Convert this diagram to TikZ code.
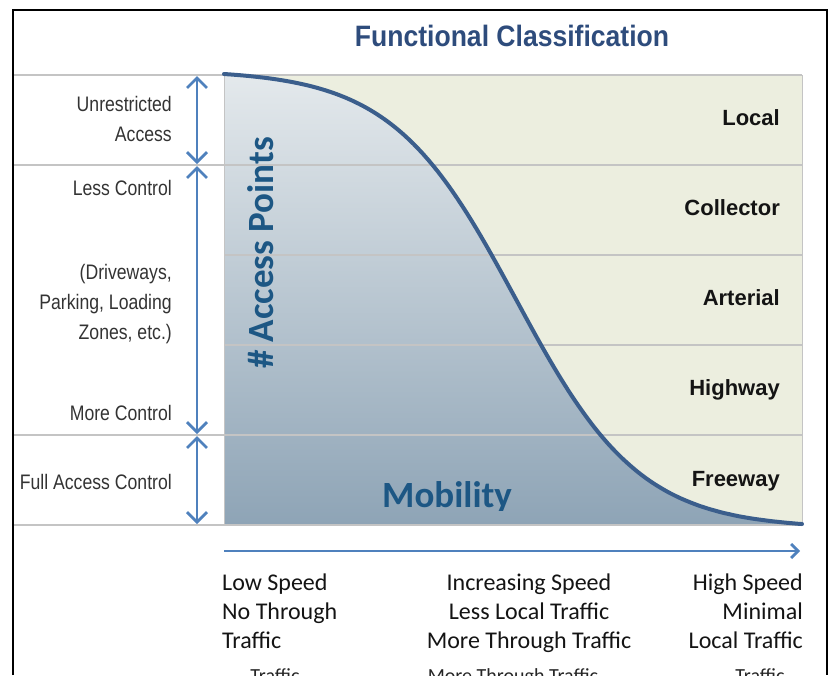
\documentclass[tikz,border=0pt]{standalone}
\usepackage{fontspec}
\setmainfont{Liberation Sans}
\newfontfamily\narrowsans[FakeStretch=0.84]{Liberation Sans}
\newfontfamily\titlesans[FakeStretch=0.9]{Liberation Sans}
\newfontfamily\calsans{Carlito}
\usetikzlibrary{arrows.meta}

\definecolor{titleblue}{HTML}{2E4C7C}
\definecolor{axisblue}{HTML}{1D5784}
\definecolor{arrowblue}{HTML}{4F81BD}
\definecolor{curveblue}{HTML}{3B5E8C}
\definecolor{gridgray}{HTML}{C4C4C4}
\definecolor{chartbeige}{HTML}{ECEEDF}
\definecolor{shadetop}{HTML}{E4E9EC}
\definecolor{shademid}{HTML}{C6D1DA}
\definecolor{shadebot}{HTML}{8EA4B6}
\definecolor{labelgray}{HTML}{333333}

\begin{document}
\begin{tikzpicture}[x=1pt,y=-1pt,
  leftlabel/.style={anchor=base east, inner sep=0pt, text=labelgray,
    font=\narrowsans\fontsize{21}{25}\selectfont},
  classlabel/.style={anchor=base east, inner sep=0pt, text=black!92,
    font=\bfseries\fontsize{22}{26}\selectfont},
  speedlabel/.style={inner sep=0pt, text=black!92,
    font=\calsans\fontsize{24}{29}\selectfont},
  ghostlabel/.style={inner sep=0pt, text=black!85,
    font=\calsans\fontsize{20}{24}\selectfont},
  axistitle/.style={inner sep=0pt, text=axisblue,
    font=\calsans\bfseries\fontsize{37}{44}\selectfont},
  gridline/.style={draw=gridgray, line width=1.5pt},
  spanarrow/.style={draw=arrowblue, line width=2.8pt,
    {Straight Barb[length=10pt,width=20pt]}-{Straight Barb[length=10pt,width=20pt]}},
  axisarrow/.style={draw=arrowblue, line width=2.8pt,
    -{Straight Barb[length=7pt,width=14pt]}},
]
\useasboundingbox (0,0) rectangle (829,675);

% chart background
\fill[chartbeige] (224,75) rectangle (802,525);

% shaded area below the access curve
\shade[top color=shadetop, middle color=shademid, bottom color=shadebot]
  (224,525) -- (224,74)
  -- plot[domain=224:802, samples=120, variable=\x]
     (\x, {74 + 458.7*(1/(1+exp(-9.3*((\x-224)/578-0.505))) - 0.00904)})
  -- (802,525) -- cycle;

% band lines
\foreach \yy in {75,165,435,525} \draw[gridline] (13,\yy) -- (802,\yy);
\foreach \yy in {255,345} \draw[gridline] (224,\yy) -- (802,\yy);
\draw[gridline, line width=1pt] (224,75) -- (224,525);
\draw[gridline, line width=1pt] (802,75) -- (802,525);

% access curve
\draw[curveblue, line width=4pt, line cap=round, line join=round]
  plot[domain=224:802, samples=120, variable=\x]
  (\x, {74 + 458.7*(1/(1+exp(-9.3*((\x-224)/578-0.505))) - 0.00904)});

% outer frame
\draw[black, line width=2pt, line join=miter] (13,675) -- (13,10) -- (827,10) -- (827,675);

% title
\node[inner sep=0pt, text=titleblue,
  font=\titlesans\bfseries\fontsize{29.5}{34}\selectfont] (title) at (512,36)
  {Functional Classification};

% access span arrows
\coordinate (s0) at (197,76);
\coordinate (s1) at (197,164);
\coordinate (s2) at (197,166);
\coordinate (s3) at (197,434);
\coordinate (s4) at (197,436);
\coordinate (s5) at (197,524);
\draw[spanarrow] (s0) -- (s1);
\draw[spanarrow] (s2) -- (s3);
\draw[spanarrow] (s4) -- (s5);

% access level labels
\node[leftlabel] (unres) at (172,111.5) {Unrestricted};
\node[leftlabel] (unresb) at (172,141.5) {Access};
\node[leftlabel] (less) at (172,195.5) {Less Control};
\node[leftlabel] (drive) at (172,279) {(Driveways,};
\node[leftlabel] (park) at (172,309) {Parking, Loading};
\node[leftlabel] (zones) at (172,339) {Zones, etc.)};
\node[leftlabel] (more) at (172,420.5) {More Control};
\node[leftlabel] (full) at (172,489.5) {Full Access Control};

% road classes
\node[classlabel] (local) at (780,125) {Local};
\node[classlabel] (collector) at (780,215) {Collector};
\node[classlabel] (arterial) at (780,305) {Arterial};
\node[classlabel] (highway) at (780,395) {Highway};
\node[classlabel] (freeway) at (780,486) {Freeway};

% axis titles
\node[axistitle, rotate=90] (points) at (261,253) {\# Access Points};
\begin{scope}
  \clip (224,75) rectangle (802,510);
  \node[axistitle, anchor=base west] (mobility) at (382,507) {Mobility};
\end{scope}

% mobility axis
\coordinate (ax0) at (224,551);
\coordinate (ax1) at (800,551);
\draw[axisarrow] (ax0) -- (ax1);

% speed descriptions
\node[speedlabel, anchor=base west] (low1) at (222,590) {Low Speed};
\node[speedlabel, anchor=base west] (low2) at (222,619) {No Through};
\node[speedlabel, anchor=base west] (low3) at (222,648) {Traffic};
\node[speedlabel, anchor=base] (mid1) at (529,590) {Increasing Speed};
\node[speedlabel, anchor=base] (mid2) at (529,619) {Less Local Traffic};
\node[speedlabel, anchor=base] (mid3) at (529,648) {More Through Traffic};
\node[speedlabel, anchor=base east] (high1) at (803,590) {High Speed};
\node[speedlabel, anchor=base east] (high2) at (803,619) {Minimal};
\node[speedlabel, anchor=base east] (high3) at (803,648) {Local Traffic};

% partly hidden lower line
\begin{scope}
  \clip (14,662) rectangle (826,675);
  \node[ghostlabel, anchor=base] (g1) at (275,682) {Traffic};
  \node[ghostlabel, anchor=base] (g2) at (513,682) {More Through Traffic};
  \node[ghostlabel, anchor=base] (g3) at (760,682) {Traffic};
\end{scope}
\end{tikzpicture}
\end{document}
